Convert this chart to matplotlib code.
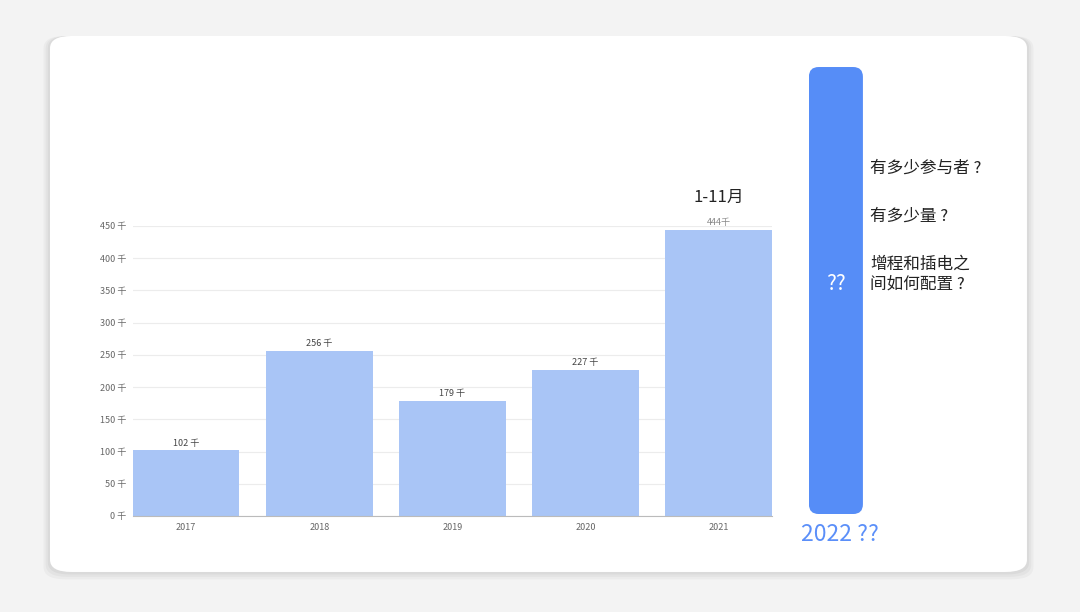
import matplotlib
matplotlib.use('Agg')
import matplotlib.pyplot as plt
from matplotlib.patches import FancyBboxPatch
import numpy as np

plt.rcParams['font.family'] = ['Noto Sans CJK SC', 'DejaVu Sans']

years = ['2017', '2018', '2019', '2020', '2021']
sales = [102, 256, 179, 227, 444]   # 千
labels = ['102 千', '256 千', '179 千', '227 千', '444千']
yticks = [0, 50, 100, 150, 200, 250, 300, 350, 400, 450]
questions = ['有多少参与者 ?', '有多少量 ?', '增程和插电之\n间如何配置 ?']

light_blue = '#a9c5f6'
dark_blue = '#568df7'

fig = plt.figure(figsize=(10.8, 6.12), dpi=100)
fig.patch.set_facecolor('#f3f3f3')

# card with soft shadow
for i, a in enumerate([0.03, 0.03, 0.04]):
    pad = 0.004 * (3 - i)
    sh = FancyBboxPatch((0.0463 - pad / 2, 0.0654 - pad), 0.9046 + pad, 0.8758 + pad,
                        boxstyle='round,pad=0,rounding_size=0.02',
                        transform=fig.transFigure, facecolor='#000000', alpha=a,
                        edgecolor='none', zorder=-3)
    fig.patches.append(sh)
card = FancyBboxPatch((0.0463, 0.0654), 0.9046, 0.8758,
                      boxstyle='round,pad=0,rounding_size=0.02',
                      transform=fig.transFigure, facecolor='white',
                      edgecolor='none', zorder=-2)
fig.patches.append(card)

ax = fig.add_axes([0.1231, 0.1569, 0.5917, 0.4739])
ax.set_facecolor('none')
x = np.arange(len(years))
bars = ax.bar(x, sales, width=0.8, color=light_blue, zorder=3)
ax.set_xlim(-0.4, 4.4)
ax.set_ylim(0, 450)
ax.set_yticks(yticks)
ax.set_yticklabels([f'{v} 千' for v in yticks], fontsize=6.5, color='#666666')
ax.set_xticks(x)
ax.set_xticklabels(years, fontsize=6.5, color='#666666')
ax.tick_params(length=0, pad=5)
ax.grid(axis='y', color='#ececec', linewidth=0.8, zorder=0)
for s in ['top', 'right', 'left']:
    ax.spines[s].set_visible(False)
ax.spines['bottom'].set_color('#bbbbbb')
ax.spines['bottom'].set_linewidth(0.8)
ax.spines['bottom'].set_zorder(4)

for xi, v, lab in zip(x, sales, labels):
    col = '#444444' if xi < 4 else '#888888'
    ax.text(xi, v + 4, lab, ha='center', va='bottom', fontsize=6.5,
            color=col, clip_on=False, fontweight='medium')
ax.text(4, 494, '1-11月', ha='center', va='center', fontsize=12,
        color='#222222', clip_on=False)

# 2022 unknown bar
ax2 = fig.add_axes([0.749, 0.1601, 0.05, 0.7304])
ax2.set_xlim(0, 1)
ax2.set_ylim(0, 1)
ax2.axis('off')
ax2.add_patch(FancyBboxPatch((0, 0), 1, 1,
                             boxstyle='round,pad=0,rounding_size=0.18',
                             mutation_aspect=54 / 447,
                             facecolor=dark_blue, edgecolor='none'))
ax2.text(0.5, 0.515, '??', ha='center', va='center', fontsize=15,
         color='white')
fig.text(0.7778, 0.126, '2022 ??', ha='center', va='center', fontsize=16.5,
         color='#5b8ff9')

qy = [0.725, 0.647, 0.552]
for q, yy in zip(questions, qy):
    fig.text(0.806, yy, q, ha='left', va='center', fontsize=12,
             color='#222222', linespacing=1.15)

fig.savefig('out.png', dpi=100, facecolor=fig.get_facecolor())
